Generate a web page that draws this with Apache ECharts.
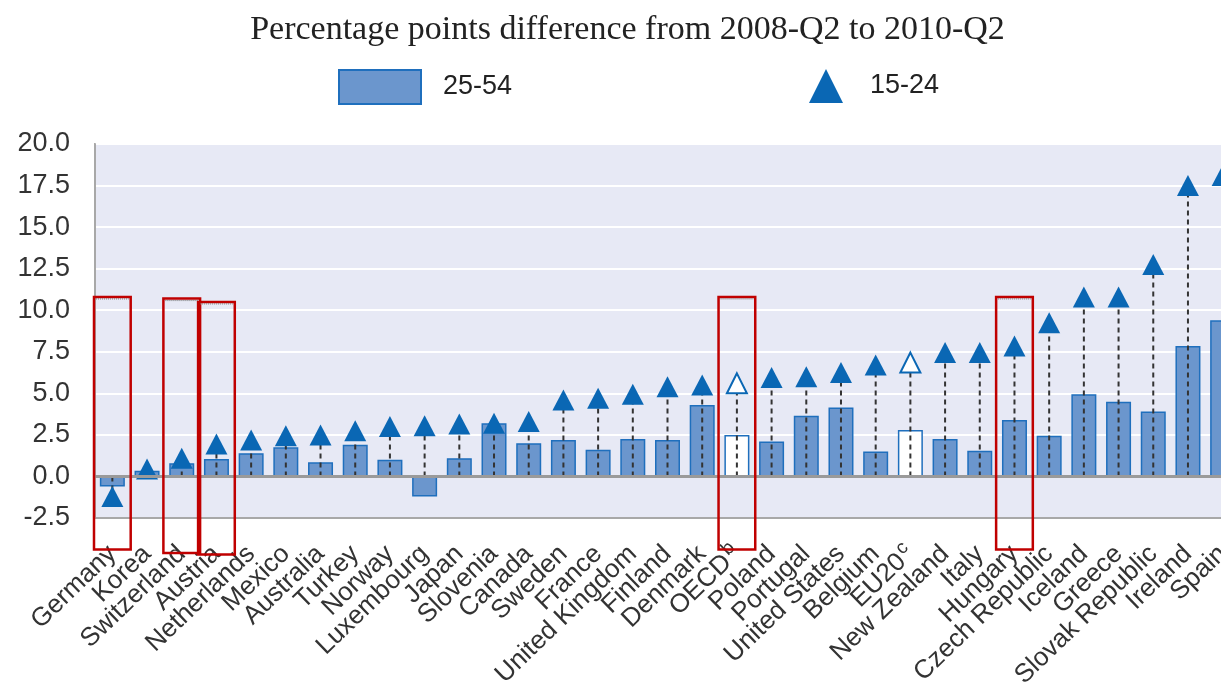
<!DOCTYPE html>
<html>
<head>
<meta charset="utf-8">
<script src="https://cdn.jsdelivr.net/npm/echarts@6/dist/echarts.min.js"></script>
<style>
html,body{margin:0;padding:0;background:#fff;overflow:hidden;width:1221px;height:692px;}
#chart{width:1255px;height:692px;}
</style>
</head>
<body>
<div id="chart"></div>
<script>
// ---- data ----
const titleText = 'Percentage points difference from 2008-Q2 to 2010-Q2';
const categories = ['Germany','Korea','Switzerland','Austria','Netherlands','Mexico','Australia','Turkey','Norway','Luxembourg','Japan','Slovenia','Canada','Sweden','France','United Kingdom','Finland','Denmark','OECD','Poland','Portugal','United States','Belgium','EU20','New Zealand','Italy','Hungary','Czech Republic','Iceland','Greece','Slovak Republic','Ireland','Spain'];
const labelNotes = {'OECD': 'b', 'EU20': 'c'};
const prime = [-0.6,0.35,0.8,1.05,1.4,1.75,0.85,1.9,1.0,-1.2,1.1,3.2,2.0,2.2,1.6,2.25,2.2,4.3,2.5,2.1,3.65,4.15,1.5,2.8,2.25,1.55,3.4,2.45,4.95,4.5,3.9,7.85,9.4];
const youth = [-1.2,0.45,1.1,1.95,2.2,2.45,2.5,2.75,3.0,3.05,3.15,3.2,3.3,4.6,4.7,4.95,5.4,5.5,5.6,5.95,6.0,6.25,6.7,6.85,7.45,7.45,7.85,9.25,10.8,10.8,12.75,17.5,18.1];
const aggregates = ['OECD','EU20'];
const yTicks = [-2.5,0,2.5,5,7.5,10,12.5,15,17.5,20];
const seriesNames = ['25-54','15-24'];
const highlighted = ['Germany','Switzerland','Austria','OECD','Hungary'];
const boxTop = [10.8,10.7,10.5,10.8,10.8];
const boxBottom = [-4.4,-4.6,-4.7,-4.4,-4.4];

// ---- styles ----
const barFill = '#6b96cd';
const barBorder = '#1f6fbd';
const triColor = '#0a67b4';

const barData = prime.map((v, i) => aggregates.includes(categories[i])
  ? {value: v, itemStyle: {color: '#ffffff', borderColor: barBorder, borderWidth: 1.5}}
  : v);
const triData = youth.map((v, i) => aggregates.includes(categories[i])
  ? {value: [i, v], symbolSize: [20, 20], itemStyle: {color: '#ffffff', borderColor: triColor, borderWidth: 2}}
  : [i, v]);
const stemData = youth.map((v, i) => [i, v]);
const boxData = highlighted.map((c, k) => [categories.indexOf(c), boxTop[k], boxBottom[k]]);

const chart = echarts.init(document.getElementById('chart'));
chart.setOption({
  animation: false,
  backgroundColor: '#ffffff',
  title: {
    text: titleText,
    left: 'center',
    top: 8,
    textStyle: {fontFamily: 'Liberation Serif', fontSize: 34, fontWeight: 'normal', color: '#222'}
  },
  legend: [
    {
      data: [{name: seriesNames[0], icon: 'rect'}],
      left: 338, top: 69, padding: 0,
      itemWidth: 82, itemHeight: 34,
      textStyle: {fontFamily: 'Liberation Sans', fontSize: 27, color: '#222', padding: [0, 0, 0, 17]}
    },
    {
      data: [{name: seriesNames[1], icon: 'triangle'}],
      left: 809, top: 69, padding: 0,
      itemWidth: 34, itemHeight: 34,
      textStyle: {fontFamily: 'Liberation Sans', fontSize: 27, color: '#222', padding: [0, 0, 0, 22]}
    }
  ],
  grid: {
    left: 95, top: 144, width: 1145, height: 374,
    show: true, backgroundColor: '#e7e9f5', borderColor: '#a8a8a8', borderWidth: 2
  },
  xAxis: {
    type: 'category',
    data: categories,
    axisLine: {onZero: false, lineStyle: {color: '#a8a8a8', width: 2}},
    axisTick: {show: false},
    splitLine: {show: false},
    axisLabel: {
      rotate: 44,
      margin: 32,
      interval: 0,
      fontFamily: 'Liberation Sans',
      fontSize: 26,
      color: '#333',
      formatter: v => labelNotes[v] ? v + '{sup|' + labelNotes[v] + '}' : v,
      rich: {sup: {fontFamily: 'Liberation Sans', fontSize: 19, color: '#333', verticalAlign: 'top', padding: [0, 0, 14, 2]}}
    }
  },
  yAxis: {
    type: 'value',
    min: yTicks[0], max: yTicks[yTicks.length - 1], interval: 2.5,
    axisLine: {show: true, lineStyle: {color: '#a8a8a8', width: 2}},
    axisTick: {show: false},
    splitLine: {show: true, lineStyle: {color: '#ffffff', width: 2}},
    axisLabel: {
      margin: 25,
      fontFamily: 'Liberation Sans', fontSize: 27, color: '#333',
      formatter: v => v.toFixed(1)
    }
  },
  series: [
    {
      name: seriesNames[0],
      type: 'bar',
      data: barData,
      barWidth: 25,
      itemStyle: {color: barFill, borderColor: barBorder, borderWidth: 1.5},
      z: 2,
      markLine: {
        silent: true, symbol: 'none', label: {show: false},
        lineStyle: {color: '#9a9a9a', width: 3, type: 'solid'},
        data: [{yAxis: 0}]
      }
    },
    {
      name: 'stems',
      type: 'custom',
      data: stemData,
      z: 3,
      silent: true,
      renderItem: (params, api) => {
        const p0 = api.coord([api.value(0), 0]);
        const p1 = api.coord([api.value(0), api.value(1)]);
        return {type: 'line', shape: {x1: p0[0], y1: p0[1], x2: p1[0], y2: p1[1]},
          style: {stroke: '#333', lineWidth: 2, lineDash: [5, 4]}};
      }
    },
    {
      name: seriesNames[1],
      type: 'scatter',
      data: triData,
      symbol: 'triangle',
      symbolSize: [22, 21],
      itemStyle: {color: triColor, opacity: 1},
      z: 4
    },
    {
      name: 'highlight',
      type: 'custom',
      data: boxData,
      z: 6,
      silent: true,
      clip: false,
      renderItem: (params, api) => {
        const top = api.coord([api.value(0), api.value(1)]);
        const bot = api.coord([api.value(0), api.value(2)]);
        const w = api.size([1, 0])[0] + 2;
        return {type: 'group', children: [
          {type: 'rect', shape: {x: top[0] - w / 2, y: top[1], width: w, height: bot[1] - top[1]},
            style: {fill: 'none', stroke: '#c00000', lineWidth: 2.5}},
          {type: 'line', shape: {x1: top[0] - w / 2 + 2, y1: top[1] + 2, x2: top[0] + w / 2 - 2, y2: top[1] + 2},
            style: {stroke: '#777', lineWidth: 1, lineDash: [1, 1]}}
        ]};
      }
    }
  ]
});
</script>
</body>
</html>
